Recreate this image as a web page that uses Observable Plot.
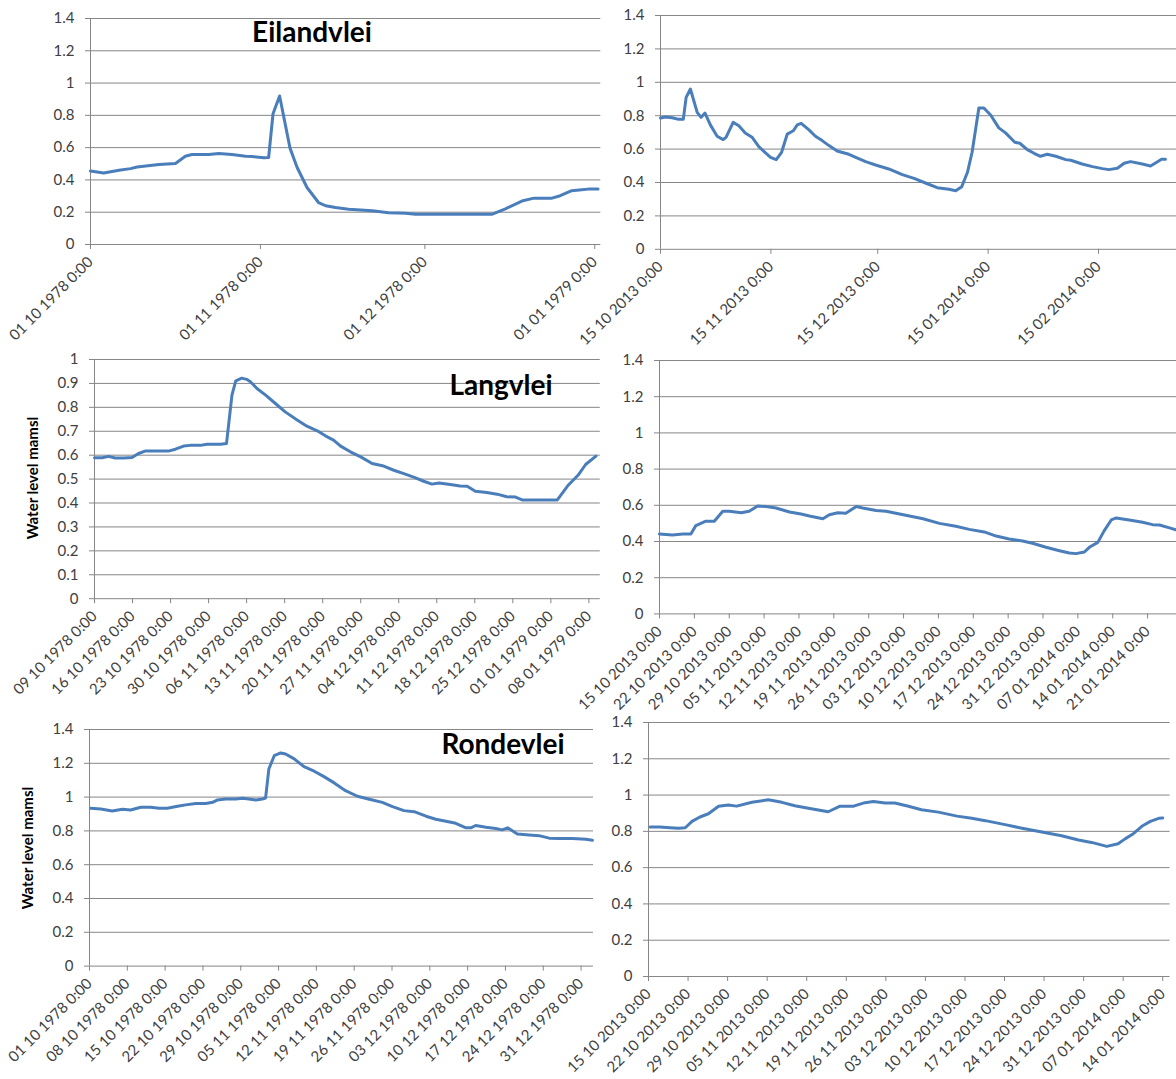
<!DOCTYPE html>
<html>
<head>
<meta charset="utf-8">
<script src="https://cdn.jsdelivr.net/npm/d3@7"></script>
<script src="https://cdn.jsdelivr.net/npm/@observablehq/plot@0.6"></script>
<style>
  html, body { margin: 0; padding: 0; background: #fff; }
  #board { position: relative; width: 1176px; height: 1079px; overflow: hidden; font-family: Lato, sans-serif; }
  #board svg { position: absolute; overflow: visible; }
  #board svg text { fill: #404040; }
  .title { position: absolute; font: bold 28px Lato, sans-serif; color: #000; transform: translate(-50%, -50%); white-space: nowrap; }
  .ylabel { position: absolute; font: bold 15px Lato, sans-serif; color: #000; transform: translate(-50%, -50%) rotate(-90deg); white-space: nowrap; }
</style>
</head>
<body>
<div id="board"></div>
<script>
// Water level (m amsl) of three vleis, two flood seasons each.
// Each series: days since its start date, and the level on that day.

// Eilandvlei, from 1 Oct 1978
const eil78Start = "1978-10-01";
const eil78Day = [0, 2.4, 5.2, 7.3, 8.5, 12.5, 15.5, 17.3, 18.5, 21.6, 23.4, 25.8, 28.3, 29.5, 31.6, 32.5, 33.3, 34.5, 36.4, 37.7, 39.5, 41.6, 42.9, 44.7, 47.1, 51.4, 54.4, 57.5, 59.3, 73.3, 75.7, 78.7, 80.9, 84.2, 85.7, 87.8, 89.6, 90.8, 92.6];
const eil78Level = [0.455, 0.443, 0.46, 0.47, 0.48, 0.495, 0.502, 0.547, 0.557, 0.557, 0.563, 0.558, 0.546, 0.545, 0.537, 0.539, 0.81, 0.92, 0.597, 0.477, 0.353, 0.26, 0.24, 0.229, 0.219, 0.209, 0.196, 0.194, 0.188, 0.188, 0.221, 0.269, 0.287, 0.287, 0.302, 0.333, 0.339, 0.343, 0.343];
const eil78Ticks = ["1978-10-01", "1978-11-01", "1978-12-01", "1979-01-01"];

// Eilandvlei, from 15 Oct 2013
const eil13Start = "2013-10-15";
const eil13Day = [0, 1.4, 3.3, 5.1, 6.4, 7.2, 8.4, 10.3, 11.4, 12.5, 14.0, 15.9, 17.6, 18.4, 20.4, 22.0, 23.8, 25.7, 27.6, 29.5, 30.9, 32.5, 34.0, 35.6, 37.3, 38.4, 39.5, 41.7, 43.5, 45.4, 47.3, 49.6, 52.9, 57.6, 60.4, 64.1, 67.9, 71.2, 74.4, 77.7, 81.0, 82.9, 84.6, 86.2, 87.5, 88.5, 89.4, 90.8, 92.7, 95.0, 96.9, 99.5, 100.9, 103.0, 104.9, 106.7, 108.6, 111.0, 113.8, 115.2, 118.4, 121.3, 124.1, 125.9, 128.3, 130.2, 132.0, 135.3, 137.6, 139.0, 140.7, 141.8];
const eil13Level = [0.786, 0.792, 0.788, 0.778, 0.778, 0.91, 0.96, 0.82, 0.79, 0.816, 0.745, 0.677, 0.657, 0.67, 0.76, 0.74, 0.697, 0.671, 0.615, 0.577, 0.551, 0.537, 0.581, 0.69, 0.71, 0.745, 0.754, 0.715, 0.677, 0.651, 0.621, 0.589, 0.569, 0.525, 0.505, 0.481, 0.447, 0.425, 0.397, 0.369, 0.359, 0.351, 0.375, 0.461, 0.581, 0.72, 0.846, 0.846, 0.804, 0.727, 0.697, 0.641, 0.635, 0.597, 0.575, 0.557, 0.569, 0.557, 0.537, 0.533, 0.511, 0.495, 0.483, 0.477, 0.485, 0.515, 0.525, 0.511, 0.499, 0.517, 0.539, 0.539];
const eil13Ticks = ["2013-10-15", "2013-11-15", "2013-12-15", "2014-01-15", "2014-02-15"];

// Langvlei, from 9 Oct 1978
const lang78Start = "1978-10-09";
const lang78Day = [0, 1.4, 2.6, 3.8, 5.4, 6.9, 8.1, 9.3, 13.6, 14.9, 16.4, 17.6, 19.5, 20.7, 23.2, 24.3, 25.3, 26.0, 27.1, 28.0, 28.7, 29.9, 31.5, 33.3, 35.1, 37.3, 39.1, 41.0, 42.5, 44.0, 45.3, 47.1, 49.0, 51.1, 53.0, 55.1, 57.2, 59.1, 60.6, 62.1, 63.4, 65.5, 67.3, 68.6, 70.1, 72.2, 74.1, 75.9, 77.5, 78.7, 85.2, 87.1, 89.0, 90.4, 92.3];
const lang78Level = [0.589, 0.589, 0.595, 0.588, 0.588, 0.590, 0.607, 0.617, 0.617, 0.625, 0.638, 0.641, 0.641, 0.646, 0.646, 0.649, 0.851, 0.911, 0.922, 0.917, 0.907, 0.879, 0.851, 0.816, 0.781, 0.747, 0.721, 0.702, 0.681, 0.663, 0.638, 0.614, 0.593, 0.565, 0.556, 0.537, 0.521, 0.505, 0.491, 0.479, 0.484, 0.477, 0.471, 0.470, 0.449, 0.444, 0.437, 0.426, 0.425, 0.413, 0.413, 0.472, 0.516, 0.561, 0.596];
const lang78Ticks = ["1978-10-09", "1978-10-16", "1978-10-23", "1978-10-30", "1978-11-06", "1978-11-13", "1978-11-20", "1978-11-27", "1978-12-04", "1978-12-11", "1978-12-18", "1978-12-25", "1979-01-01", "1979-01-08"];

// Langvlei, from 15 Oct 2013
const lang13Start = "2013-10-15";
const lang13Day = [0, 2.6, 4.7, 6.3, 7.3, 9.3, 11.0, 12.7, 14.0, 16.4, 18.0, 19.7, 21.4, 23.4, 26.1, 28.4, 30.1, 32.8, 34.1, 35.8, 37.4, 39.5, 40.8, 43.5, 45.5, 48.2, 50.2, 52.9, 56.2, 59.5, 62.2, 65.2, 67.6, 70.2, 72.9, 74.9, 77.6, 80.3, 82.3, 83.6, 85.3, 86.3, 88.0, 89.3, 90.7, 91.7, 94.3, 97.0, 99.0, 100.4, 102.4, 103.7];
const lang13Level = [0.441, 0.436, 0.441, 0.441, 0.488, 0.512, 0.512, 0.567, 0.567, 0.559, 0.567, 0.596, 0.593, 0.585, 0.563, 0.552, 0.541, 0.526, 0.548, 0.559, 0.556, 0.593, 0.585, 0.571, 0.567, 0.552, 0.541, 0.526, 0.500, 0.484, 0.467, 0.453, 0.430, 0.414, 0.403, 0.390, 0.368, 0.349, 0.336, 0.333, 0.342, 0.368, 0.395, 0.460, 0.519, 0.530, 0.519, 0.506, 0.493, 0.491, 0.475, 0.464];
const lang13Ticks = ["2013-10-15", "2013-10-22", "2013-10-29", "2013-11-05", "2013-11-12", "2013-11-19", "2013-11-26", "2013-12-03", "2013-12-10", "2013-12-17", "2013-12-24", "2013-12-31", "2014-01-07", "2014-01-14", "2014-01-21"];

// Rondevlei, from 1 Oct 1978
const rond78Start = "1978-10-01";
const rond78Day = [0.2, 2.1, 4.2, 6.1, 7.6, 9.5, 11.3, 12.9, 14.4, 16.3, 17.8, 19.7, 21.5, 22.8, 23.7, 25.2, 27.1, 28.3, 29.5, 30.8, 32.0, 32.6, 33.2, 34.2, 35.4, 36.3, 37.9, 39.7, 41.6, 43.4, 45.3, 47.4, 49.6, 51.8, 54.2, 56.1, 58.2, 60.1, 62.3, 64.1, 66.0, 67.8, 69.7, 70.6, 71.5, 73.4, 75.2, 76.4, 77.4, 79.2, 81.4, 83.2, 85.1, 86.9, 89.4, 91.9, 93.1];
const rond78Level = [0.934, 0.930, 0.918, 0.928, 0.924, 0.940, 0.940, 0.934, 0.934, 0.946, 0.954, 0.962, 0.962, 0.969, 0.983, 0.989, 0.989, 0.993, 0.989, 0.983, 0.989, 0.995, 1.166, 1.245, 1.261, 1.255, 1.226, 1.180, 1.153, 1.121, 1.084, 1.038, 1.005, 0.987, 0.969, 0.944, 0.920, 0.914, 0.887, 0.869, 0.857, 0.845, 0.818, 0.818, 0.832, 0.822, 0.814, 0.806, 0.818, 0.782, 0.776, 0.772, 0.757, 0.755, 0.755, 0.751, 0.745];
const rond78Ticks = ["1978-10-01", "1978-10-08", "1978-10-15", "1978-10-22", "1978-10-29", "1978-11-05", "1978-11-12", "1978-11-19", "1978-11-26", "1978-12-03", "1978-12-10", "1978-12-17", "1978-12-24", "1978-12-31"];

// Rondevlei, from 15 Oct 2013
const rond13Start = "2013-10-15";
const rond13Day = [0.3, 2.0, 3.8, 5.3, 6.5, 7.7, 9.1, 10.6, 12.4, 14.1, 15.6, 18.3, 21.2, 23.6, 25.9, 28.3, 31.8, 33.9, 36.3, 38.3, 39.8, 41.9, 43.6, 46.0, 48.3, 51.3, 54.6, 57.2, 59.6, 63.1, 66.1, 69.6, 73.1, 76.1, 78.4, 81.1, 83.1, 84.4, 85.8, 87.3, 88.8, 90.3, 91.0];
const rond13Level = [0.824, 0.824, 0.820, 0.817, 0.820, 0.855, 0.879, 0.897, 0.938, 0.945, 0.939, 0.960, 0.974, 0.960, 0.941, 0.927, 0.908, 0.939, 0.939, 0.958, 0.965, 0.956, 0.956, 0.938, 0.919, 0.906, 0.884, 0.872, 0.859, 0.837, 0.817, 0.796, 0.776, 0.752, 0.739, 0.717, 0.732, 0.760, 0.787, 0.828, 0.855, 0.872, 0.874];
const rond13Ticks = ["2013-10-15", "2013-10-22", "2013-10-29", "2013-11-05", "2013-11-12", "2013-11-19", "2013-11-26", "2013-12-03", "2013-12-10", "2013-12-17", "2013-12-24", "2013-12-31", "2014-01-07", "2014-01-14"];

// Value axes
const yTicks14 = [0, 0.2, 0.4, 0.6, 0.8, 1, 1.2, 1.4];
const yTicks10 = [0, 0.1, 0.2, 0.3, 0.4, 0.5, 0.6, 0.7, 0.8, 0.9, 1];

const DAY = 864e5;
const utc = s => new Date(s + "T00:00Z");
const fmt = d3.utcFormat("%d %m %Y %-H:%M");
const series = (start, day, level) =>
  day.map((d, i) => ({date: new Date(+utc(start) + d * DAY), level: level[i]}));

// Grid of panels: plot-area edges on the page, and how many days each axis spans.
const panels = [
  {start: eil78Start, day: eil78Day, level: eil78Level, ticks: eil78Ticks, yTicks: yTicks14, span: 93.1,
   left: 89.7, right: 600, top: 17.7, bottom: 243.7},
  {start: eil13Start, day: eil13Day, level: eil13Level, ticks: eil13Ticks, yTicks: yTicks14, span: 144.9,
   left: 660, right: 1176, top: 14.9, bottom: 248.7},
  {start: lang78Start, day: lang78Day, level: lang78Level, ticks: lang78Ticks, yTicks: yTicks10, span: 93.1,
   left: 94.2, right: 600, top: 359.4, bottom: 598.6},
  {start: lang13Start, day: lang13Day, level: lang13Level, ticks: lang13Ticks, yTicks: yTicks14, span: 103.9,
   left: 658.5, right: 1176, top: 359.8, bottom: 613.2},
  {start: rond78Start, day: rond78Day, level: rond78Level, ticks: rond78Ticks, yTicks: yTicks14, span: 93.3,
   left: 89, right: 593, top: 728.9, bottom: 965.5},
  {start: rond13Start, day: rond13Day, level: rond13Level, ticks: rond13Ticks, yTicks: yTicks14, span: 92.3,
   left: 648.4, right: 1170, top: 722, bottom: 976}
];

const board = document.getElementById("board");
const ml = 50, mr = 2, mt = 6, mb = 130;

for (const p of panels) {
  const t0 = utc(p.start);
  const yMax = p.yTicks[p.yTicks.length - 1];
  const svg = Plot.plot({
    width: p.right - p.left + ml + mr,
    height: p.bottom - p.top + mt + mb,
    marginLeft: ml, marginRight: mr, marginTop: mt, marginBottom: mb,
    style: {fontFamily: "Lato, sans-serif", fontSize: "15px", color: "#868686", background: "transparent", overflow: "visible"},
    x: {type: "utc", domain: [t0, new Date(+t0 + p.span * DAY)], ticks: p.ticks.map(utc), tickFormat: fmt,
        tickRotate: -45, tickSize: 5, tickPadding: 10, label: null},
    y: {domain: [0, yMax], ticks: p.yTicks, tickFormat: d => String(d), tickSize: 5, tickPadding: 11, label: null},
    marks: [
      Plot.ruleY(p.yTicks, {stroke: "#868686", strokeWidth: 1}),
      Plot.ruleX([t0], {stroke: "#868686", strokeWidth: 1}),
      Plot.line(series(p.start, p.day, p.level), {x: "date", y: "level", stroke: "#4a7ebb", strokeWidth: 3})
    ]
  });
  svg.style.left = (p.left - ml) + "px";
  svg.style.top = (p.top - mt) + "px";
  svg.style.maxWidth = "none";
  board.appendChild(svg);
}

// Lake names and value-axis titles
const labels = [
  {cls: "title", text: "Eilandvlei", x: 312, y: 31},
  {cls: "title", text: "Langvlei", x: 501, y: 384},
  {cls: "title", text: "Rondevlei", x: 503, y: 743},
  {cls: "ylabel", text: "Water level mamsl", x: 32, y: 478},
  {cls: "ylabel", text: "Water level mamsl", x: 27, y: 848}
];
for (const l of labels) {
  const div = document.createElement("div");
  div.className = l.cls;
  div.textContent = l.text;
  div.style.left = l.x + "px";
  div.style.top = l.y + "px";
  board.appendChild(div);
}
</script>
</body>
</html>
